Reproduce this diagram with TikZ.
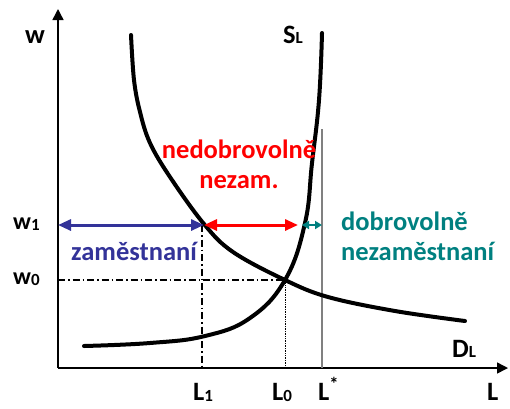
\documentclass[tikz,border=0pt]{standalone}
\usepackage{fontspec}
\setmainfont{Carlito}
\usetikzlibrary{arrows.meta}
\definecolor{empblue}{RGB}{51,51,153}
\definecolor{invred}{RGB}{255,0,0}
\definecolor{volteal}{RGB}{0,128,128}
\newcommand\idx[1]{\raisebox{-1.5pt}{\fontsize{17}{17}\selectfont #1}}
\tikzset{
  axis/.style  = {line width=1.5pt, -{Triangle[length=11pt,width=11pt]}},
  curve/.style = {line width=4pt, line cap=round},
  lbl/.style   = {font=\bfseries\fontsize{26.5}{30}\selectfont, inner sep=0pt, anchor=base west},
  tick/.style  = {font=\bfseries\fontsize{24}{28}\selectfont, inner sep=0pt, anchor=base west},
  gap/.style   = {line width=3pt, {Triangle[length=13pt,width=11pt]}-{Triangle[length=13pt,width=11pt]}},
}

\begin{document}
\begin{tikzpicture}[x=1pt,y=-1pt]
  \useasboundingbox (0,0) rectangle (510,408);
  % axes
  \coordinate (O) at (58,368);
  \coordinate (ytop) at (58,9);
  \coordinate (xend) at (508,368);
  \draw[axis] (O) -- (ytop);
  \draw[axis] (O) -- (xend);
  % key points
  \coordinate (w1) at (58,225);
  \coordinate (w0) at (58,280);
  \coordinate (A) at (204,225);
  \coordinate (B) at (298,225);
  \coordinate (B2) at (302,225);
  \coordinate (C) at (322,225);
  \coordinate (E) at (285,280);
  \coordinate (L1) at (202,368);
  \coordinate (L0) at (285,368);
  \coordinate (Ls) at (322,368);
  \coordinate (Lstop) at (322,129);
  % guides
  \draw[gray, line width=2pt] (Lstop) -- (Ls);
  \draw[line width=1.2pt, dash pattern=on 7pt off 3pt on 1.5pt off 3pt] (w0) -- (E);
  \draw[line width=1.2pt, dash pattern=on 7pt off 3pt on 1.5pt off 3pt] (202,225) -- (L1);
  \draw[line width=0.7pt, densely dotted] (E) -- (L0);
  % curves
  \draw[curve] plot[smooth, tension=0.6] coordinates
    {(131,35) (134,80) (140,112) (150,143) (170,177) (204,224) (233,252) (285,280) (328,297) (395,311) (465,321)};
  \draw[curve] plot[smooth, tension=0.7] coordinates
    {(84,346) (150,343) (205,336) (250,318) (285,280) (305,223) (312,163) (319,100) (322,33)};
  % gaps
  \draw[gap, empblue] (w1) -- (A);
  \draw[gap, invred] (A) -- (B);
  \draw[volteal, line width=2.5pt, {Triangle[length=7pt,width=8pt]}-{Triangle[length=7pt,width=8pt]}] (B2) -- (C);
  % labels
  \node[lbl] (wlab) at (25,43) {w};
  \node[tick] (w1lab) at (13,229) {w\idx{1}};
  \node[tick] (w0lab) at (13,284) {w\idx{0}};
  \node[lbl] (L1lab) at (193,400) {L\idx{1}};
  \node[lbl] (L0lab) at (272,400) {L\idx{0}};
  \node[lbl] (Lslab) at (318,400) {L\textsuperscript{*}};
  \node[lbl] (Llab) at (487,400) {L};
  \node[lbl] (Slab) at (283,43) {S{\fontsize{17}{17}\selectfont L}};
  \node[lbl] (Dlab) at (452,357) {D{\fontsize{17}{17}\selectfont L}};
  \node[lbl, empblue] (emp) at (71,260) {zaměstnaní};
  \node[lbl, invred, anchor=north, align=center] (invol) at (239,140) {nedobrovolně\\nezam.};
  \node[lbl, volteal, anchor=north west, align=left] (vol) at (341,212) {dobrovolně\\nezaměstnaní};
\end{tikzpicture}
\end{document}
